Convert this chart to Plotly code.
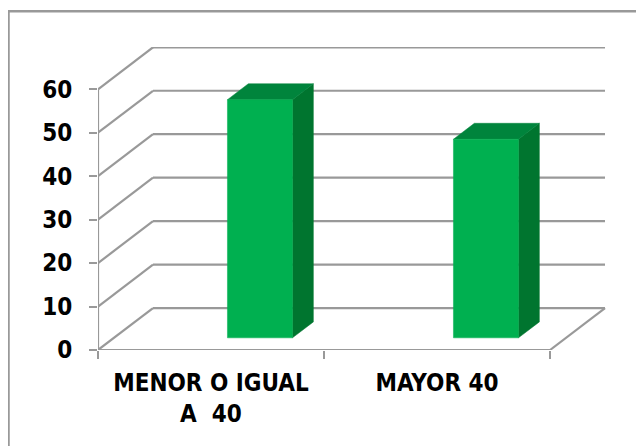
import plotly.graph_objects as go

categories = ["MENOR O IGUAL<br>A\u00a0\u00a040", "MAYOR 40"]
values = [54.8, 45.7]
y_ticks = [0, 10, 20, 30, 40, 50, 60]

W, H = 644, 446
PAGE = 8  # page margin added by the browser around the figure
L, R, T, B = 98 - PAGE, 607 - PAGE, 46.7 - PAGE, 350 - PAGE
PX_CAT = 226.0
PX_VAL = 4.35
DX = 55 / PX_CAT
DY = 42 / PX_VAL
BAR_W = 65 / PX_CAT
BAR_OFF = 0.146
D0, D1 = 0.29, 0.67

GRAY = "#999999"
FRONT, TOP, SIDE = "#00B050", "#00843C", "#00752F"
FONT = "DejaVu Sans Condensed, DejaVu Sans"


def proj(x, v, d):
    return x + d * DX, v + d * DY


def poly(pts, color):
    xs, ys = zip(*pts)
    return go.Scatter(x=list(xs) + [xs[0]], y=list(ys) + [ys[0]], mode="lines", fill="toself",
                      fillcolor=color, line=dict(color=color, width=0.5), hoverinfo="skip",
                      showlegend=False)


def seg(p, q):
    return go.Scatter(x=[p[0], q[0]], y=[p[1], q[1]], mode="lines", cliponaxis=False,
                      line=dict(color=GRAY, width=2.2), hoverinfo="skip", showlegend=False)


fig = go.Figure()
n = len(categories)
for t in y_ticks:
    fig.add_trace(seg(proj(0, t, 0), proj(0, t, 1)))
    fig.add_trace(seg(proj(0, t, 1), proj(n, t, 1)))
fig.add_trace(seg(proj(n, 0, 0), proj(n, 0, 1)))
fig.add_trace(seg((0, 0), (0, y_ticks[-1])))
fig.add_trace(seg((0, 0), (n, 0)))

for i, v in enumerate(values):
    x0 = i + 0.5 + BAR_OFF - BAR_W / 2
    x1 = x0 + BAR_W
    fig.add_trace(poly([proj(x1, 0, D0), proj(x1, 0, D1), proj(x1, v, D1), proj(x1, v, D0)], SIDE))
    fig.add_trace(poly([proj(x0, v, D0), proj(x1, v, D0), proj(x1, v, D1), proj(x0, v, D1)], TOP))
    fig.add_trace(poly([proj(x0, 0, D0), proj(x1, 0, D0), proj(x1, v, D0), proj(x0, v, D0)], FRONT))

fig.update_layout(
    width=W, height=H, autosize=False,
    margin=dict(l=L, r=W - R, t=T, b=H - B),
    paper_bgcolor="white", plot_bgcolor="white",
    showlegend=False,
    font=dict(family=FONT, color="black"),
    xaxis=dict(range=[0, (R - L) / PX_CAT], tickmode="array",
               tickvals=[i + 0.5 for i in range(n)], ticktext=categories,
               ticks="", showgrid=False, zeroline=False, showline=False,
               ticklabelstandoff=16,
               tickfont=dict(family=FONT, size=24, weight="bold", color="black"), tickangle=0,
               minor=dict(tickmode="array", tickvals=list(range(n + 1)), ticks="outside",
                          ticklen=8, tickwidth=2, tickcolor=GRAY, showgrid=False)),
    yaxis=dict(range=[0, (B - T) / PX_VAL],
               tickmode="array", tickvals=y_ticks, ticks="outside", ticklen=8, tickwidth=2,
               tickcolor=GRAY, showgrid=False, zeroline=False, showline=False,
               ticklabelstandoff=12,
               tickfont=dict(family=FONT, size=24, weight="bold", color="black")),
    shapes=[dict(type="path", xref="paper", yref="paper", layer="below",
                 path="M {} {} L {} {} L {} {}".format(
                     (8.5 - PAGE - L) / (R - L), (B - H) / (B - T),
                     (8.5 - PAGE - L) / (R - L), (B - (11 - PAGE)) / (B - T),
                     (W - L) / (R - L), (B - (11 - PAGE)) / (B - T)),
                 line=dict(color=GRAY, width=2.5))],
)
fig.write_html("out.html")
